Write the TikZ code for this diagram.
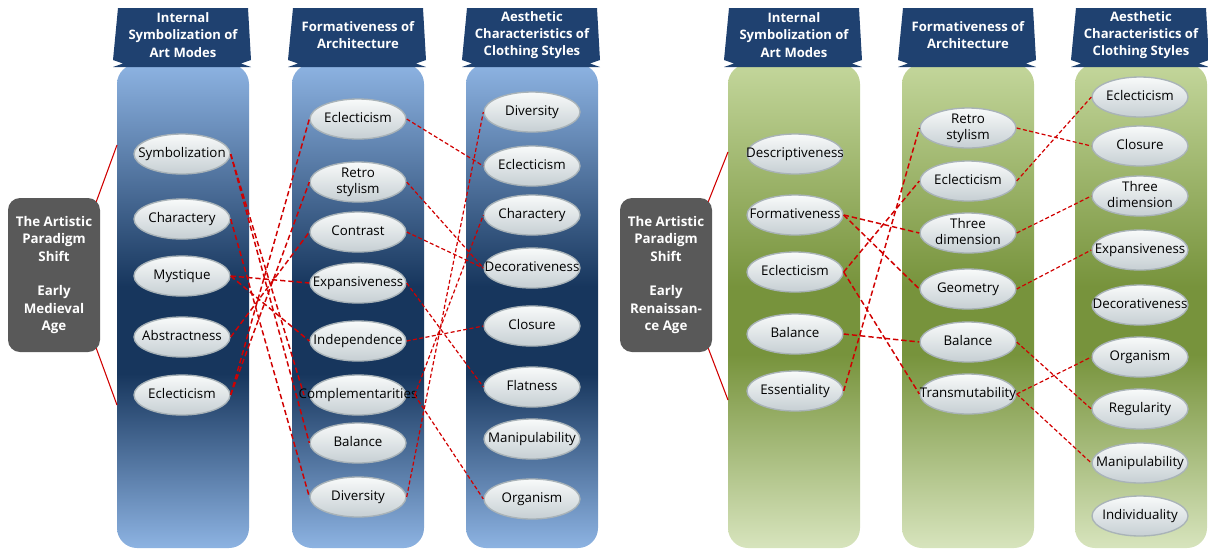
\documentclass[tikz,border=0pt]{standalone}
\usepackage{fontspec}
\setmainfont{Open Sans}
\usetikzlibrary{shapes.geometric}
\definecolor{hdrblue}{HTML}{1F4170}
\definecolor{bluetop}{HTML}{8DB3E2}
\definecolor{bluemid}{HTML}{17365D}
\definecolor{greentop}{HTML}{C3D69B}
\definecolor{greenmid}{HTML}{77933C}
\definecolor{greenbot}{HTML}{D7E4BD}
\definecolor{boxgray}{HTML}{595959}
\definecolor{lnkred}{HTML}{D00000}
\definecolor{elborder}{HTML}{A9B3B8}
\definecolor{eltop}{HTML}{F8FAFA}
\definecolor{elbot}{HTML}{C6CFD3}
\pgfdeclareverticalshading{blueband}{100bp}{color(0bp)=(bluetop); color(25bp)=(bluetop); color(43bp)=(bluemid); color(52bp)=(bluemid); color(75bp)=(bluetop); color(100bp)=(bluetop)}
\pgfdeclareverticalshading{greenband}{100bp}{color(0bp)=(greenbot); color(25bp)=(greenbot); color(45bp)=(greenmid); color(52bp)=(greenmid); color(75bp)=(greentop); color(100bp)=(greentop)}
\newcommand\lbl[1]{\makebox[0pt]{\begin{tabular}{@{}c@{}}#1\end{tabular}}}
\newcommand\mkcol[4]{%
  \path[#2, rounded corners=15pt] (#1,64) rectangle ++(132,484);
  \fill[hdrblue] (#1+1,8) -- (#1+131,8) -- (#1+134,60) -- (#1+124,63.5) -- (#1+134,67)
     -- (#1-4,67) -- (#1+6,63.5) -- (#1-4,60) -- cycle;
  \node[hdrtext] (#3) at (#1+66,35) {#4};
}
\begin{document}
\begin{tikzpicture}[x=0.75pt,y=-0.75pt,
  bluecol/.style={shade, shading=blueband},
  greencol/.style={shade, shading=greenband},
  hdrtext/.style={text=white, align=center, font=\bfseries\fontsize{9.8}{13}\selectfont, inner sep=0pt},
  el/.style={ellipse, minimum width=72pt, minimum height=30pt, inner sep=0pt,
    draw=elborder, line width=1pt, top color=eltop, bottom color=elbot,
    text height=5.4pt, text depth=0pt, font=\fontsize{10}{11.5}\selectfont},
  bigbox/.style={fill=boxgray, rounded corners=9pt, minimum width=69pt, minimum height=115.5pt,
    text=white, align=center, font=\bfseries\fontsize{10}{13}\selectfont, inner sep=0pt},
  lnkA/.style={draw=lnkred, dash pattern=on 4pt off 2.2pt, line width=1.1pt},
  lnkB/.style={draw=lnkred, dash pattern=on 3pt off 1.8pt, line width=0.9pt},
  edge/.style={draw=lnkred, line width=0.8pt}]
\useasboundingbox (0,0) rectangle (1208,551);

% ---------- left half ----------
\mkcol{117}{bluecol}{h1}{Internal\\Symbolization of\\Art Modes}
\mkcol{292}{bluecol}{h2}{Formativeness of\\Architecture}
\mkcol{466}{bluecol}{h3}{Aesthetic\\Characteristics of\\Clothing Styles}

\node[bigbox] (boxL) at (54,275) {The Artistic\\Paradigm\\Shift\\[13pt]Early\\Medieval\\Age};
\coordinate (Lt) at (117,145);
\coordinate (Lb) at (117,405);
\draw[edge] ([xshift=-3pt,yshift=-3pt]boxL.north east) -- (Lt);
\draw[edge] ([xshift=-3pt,yshift=3pt]boxL.south east) -- (Lb);

\node[el] (a1) at (182,154) {\lbl{Symbolization}};
\node[el] (a2) at (182,219) {\lbl{Charactery}};
\node[el] (a3) at (182,276) {\lbl{Mystique}};
\node[el] (a4) at (182,337) {\lbl{Abstractness}};
\node[el] (a5) at (182,395) {\lbl{Eclecticism}};

\node[el] (b1) at (358,119) {\lbl{Eclecticism}};
\node[el] (b2) at (358,182) {\lbl{Retro\\stylism}};
\node[el] (b3) at (358,232) {\lbl{Contrast}};
\node[el] (b4) at (358,283) {\lbl{Expansiveness}};
\node[el] (b5) at (358,341) {\lbl{Independence}};
\node[el] (b6) at (358,395) {\lbl{Complementarities}};
\node[el] (b7) at (358,443) {\lbl{Balance}};
\node[el] (b8) at (358,497) {\lbl{Diversity}};

\node[el] (c1) at (532,112) {\lbl{Diversity}};
\node[el] (c2) at (532,166) {\lbl{Eclecticism}};
\node[el] (c3) at (532,215) {\lbl{Charactery}};
\node[el] (c4) at (532,268) {\lbl{Decorativeness}};
\node[el] (c5) at (532,326) {\lbl{Closure}};
\node[el] (c6) at (532,387) {\lbl{Flatness}};
\node[el] (c7) at (532,439) {\lbl{Manipulability}};
\node[el] (c8) at (532,499) {\lbl{Organism}};

\draw[lnkA] (a1.east) -- ([xshift=-4pt]b6.west);
\draw[lnkA] (a1.east) -- (b7.west);
\draw[lnkA] (a2.east) -- (b8.west);
\draw[lnkA] (a3.east) -- (b4.west);
\draw[lnkA] (a3.east) -- (b5.west);
\draw[lnkA] (a4.east) -- (b3.west);
\draw[lnkA] (a5.east) -- (b1.west);
\draw[lnkA] (a5.east) -- (b2.west);

\draw[lnkB] (b1.east) -- (c2.west);
\draw[lnkB] (b2.east) -- (c4.west);
\draw[lnkB] (b3.east) -- (c4.west);
\draw[lnkB] (b4.east) -- (c6.west);
\draw[lnkB] (b5.east) -- (c5.west);
\draw[lnkB] ([xshift=6pt]b6.east) -- (c3.west);
\draw[lnkB] ([xshift=6pt]b6.east) -- (c8.west);
\draw[lnkB] (b8.east) -- (c1.west);

% ---------- right half ----------
\mkcol{728}{greencol}{h4}{Internal\\Symbolization of\\Art Modes}
\mkcol{902}{greencol}{h5}{Formativeness of\\Architecture}
\mkcol{1075}{greencol}{h6}{Aesthetic\\Characteristics of\\Clothing Styles}

\node[bigbox] (boxR) at (666,275) {The Artistic\\Paradigm\\Shift\\[13pt]Early\\Renaissan-\\ce Age};
\coordinate (Rt) at (728,152);
\coordinate (Rb) at (728,400);
\draw[edge] ([xshift=-3pt,yshift=-3pt]boxR.north east) -- (Rt);
\draw[edge] ([xshift=-3pt,yshift=3pt]boxR.south east) -- (Rb);

\node[el] (d1) at (795,154) {\lbl{Descriptiveness}};
\node[el] (d2) at (795,215) {\lbl{Formativeness}};
\node[el] (d3) at (795,272) {\lbl{Eclecticism}};
\node[el] (d4) at (795,334) {\lbl{Balance}};
\node[el] (d5) at (795,391) {\lbl{Essentiality}};

\node[el] (e1) at (968,128) {\lbl{Retro\\stylism}};
\node[el] (e2) at (968,181) {\lbl{Eclecticism}};
\node[el] (e3) at (968,233) {\lbl{Three\\dimension}};
\node[el] (e4) at (968,289) {\lbl{Geometry}};
\node[el] (e5) at (968,342) {\lbl{Balance}};
\node[el] (e6) at (968,394) {\lbl{Transmutability}};

\node[el] (f1) at (1140,97) {\lbl{Eclecticism}};
\node[el] (f2) at (1140,146) {\lbl{Closure}};
\node[el] (f3) at (1140,196) {\lbl{Three\\dimension}};
\node[el] (f4) at (1140,250) {\lbl{Expansiveness}};
\node[el] (f5) at (1140,305) {\lbl{Decorativeness}};
\node[el] (f6) at (1140,357) {\lbl{Organism}};
\node[el] (f7) at (1140,409) {\lbl{Regularity}};
\node[el] (f8) at (1140,463) {\lbl{Manipulability}};
\node[el] (f9) at (1140,516) {\lbl{Individuality}};

\draw[lnkA] (d2.east) -- (e3.west);
\draw[lnkA] (d2.east) -- (e4.west);
\draw[lnkA] (d3.east) -- (e2.west);
\draw[lnkA] (d3.east) -- (e6.west);
\draw[lnkA] (d4.east) -- (e5.west);
\draw[lnkA] (d5.east) -- (e1.west);

\draw[lnkB] (e1.east) -- (f2.west);
\draw[lnkB] (e2.east) -- (f1.west);
\draw[lnkB] (e3.east) -- (f3.west);
\draw[lnkB] (e4.east) -- (f4.west);
\draw[lnkB] (e5.east) -- (f7.west);
\draw[lnkB] (e6.east) -- (f6.west);
\draw[lnkB] (e6.east) -- (f8.west);
\end{tikzpicture}
\end{document}
